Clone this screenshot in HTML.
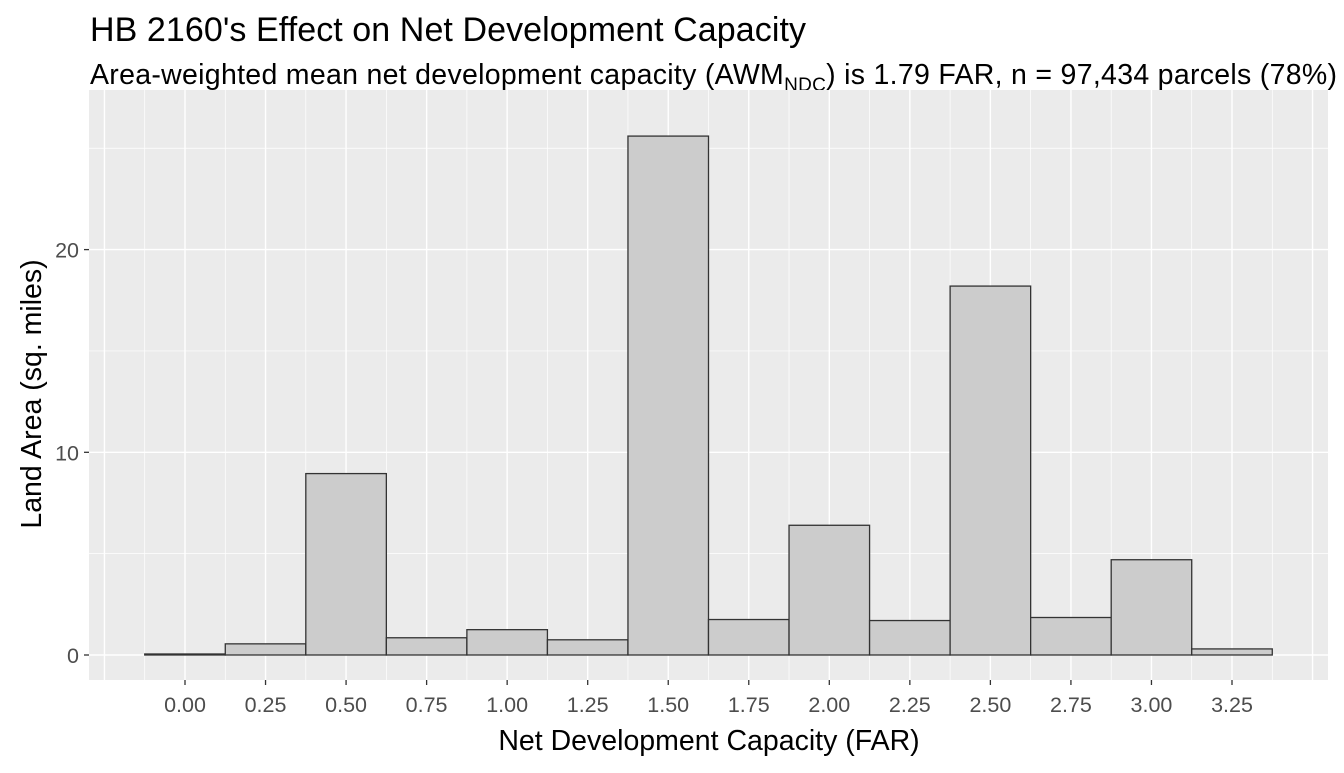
<!DOCTYPE html>
<html><head><meta charset="utf-8"><style>
body{margin:0;background:#fff;font-family:"Liberation Sans",sans-serif}
svg text{font-family:"Liberation Sans",sans-serif}
</style></head><body>
<svg width="1344" height="768">
<text x="90" y="41" font-size="34" textLength="716" fill="#000">HB 2160's Effect on Net Development Capacity</text>
<text x="90" y="84" font-size="28.5" fill="#000" textLength="1247">Area-weighted mean net development capacity (AWM<tspan font-size="19" dy="7">NDC</tspan><tspan dy="-7">) is 1.79 FAR, n = 97,434 parcels (78%)</tspan></text>
<g id="plot"></g>
<text x="709" y="750" font-size="28.5" text-anchor="middle">Net Development Capacity (FAR)</text>
<text transform="translate(41,394) rotate(-90)" font-size="28.5" text-anchor="middle">Land Area (sq. miles)</text>
</svg>
<script>
const categories=[0,0.25,0.5,0.75,1.0,1.25,1.5,1.75,2.0,2.25,2.5,2.75,3.0,3.25];
const values=[0.05,0.55,8.95,0.85,1.25,0.75,25.6,1.75,6.4,1.7,18.2,1.85,4.7,0.3];
const xTicks=["0.00","0.25","0.50","0.75","1.00","1.25","1.50","1.75","2.00","2.25","2.50","2.75","3.00","3.25"];
const yTicks=[0,10,20];
const binWidth=0.25;
const L=89,R=1328,T=90,B=680;
const xs=v=>185+(v-0)*(1232-185)/3.25;
const ys=v=>655-v*20.27;
const NS="http://www.w3.org/2000/svg";
const g=document.getElementById('plot');
function mk(t,a){const e=document.createElementNS(NS,t);for(const k in a)e.setAttribute(k,a[k]);g.appendChild(e);return e;}
const bg=mk('rect',{x:L,y:T,width:R-L,height:B-T,fill:'#ebebeb'});


for(let v=-5;v<=30;v+=5){const y=ys(v);if(y<T||y>B)continue;const major=v%10===0;
 const l=mk('line',{x1:L,x2:R,y1:y,y2:y,stroke:'#fff','stroke-width':major?1.4:0.7});
 
 }
for(let i=-3;i<=30;i++){const v=i*0.125;const x=xs(v);if(x<L||x>R)continue;const major=i%2===0;
 const l=mk('line',{x1:x,x2:x,y1:T,y2:B,stroke:'#fff','stroke-width':major?1.4:0.7});
 
 }
categories.forEach((c,i)=>{
 const x0=xs(c-binWidth/2),x1=xs(c+binWidth/2),y=ys(values[i]);
 const r=mk('rect',{x:x0,y:y,width:x1-x0,height:ys(0)-y,fill:'#cccccc',stroke:'#333','stroke-width':1.3});
 
 
 const t=mk('line',{x1:xs(c),x2:xs(c),y1:B,y2:B+5,stroke:'#333','stroke-width':1.3});
 
 
 const lb=mk('text',{x:xs(c),y:B+32,'font-size':21.5,fill:'#4d4d4d','text-anchor':'middle'});lb.textContent=xTicks[i];
 
 
});
yTicks.forEach(v=>{
 const t=mk('line',{x1:L-5,x2:L,y1:ys(v),y2:ys(v),stroke:'#333','stroke-width':1.3});
 
 
 const lb=mk('text',{x:L-10,y:ys(v)+8,'font-size':21.5,fill:'#4d4d4d','text-anchor':'end'});lb.textContent=v;
 
 
});
</script>
</body></html>
